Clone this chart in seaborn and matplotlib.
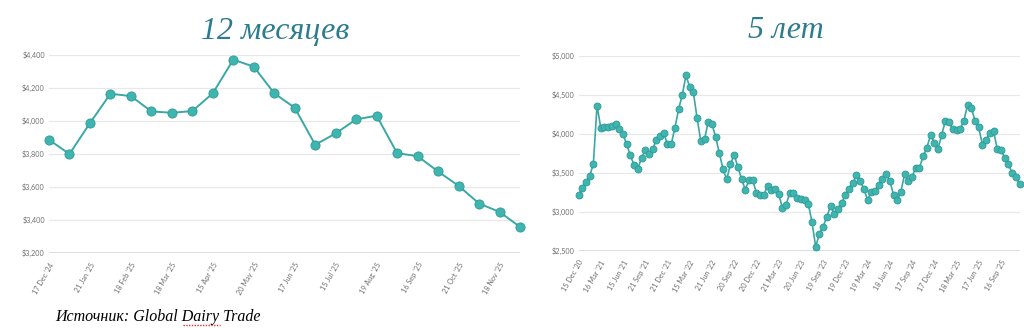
import matplotlib
matplotlib.use("Agg")
import matplotlib.pyplot as plt
from matplotlib.lines import Line2D
import seaborn as sns
import pandas as pd
import numpy as np

# ---- data ----
vals_12m = [3886, 3800, 3987, 4165, 4151, 4058, 4050, 4060, 4168, 4372, 4329, 4168,
            4080, 3856, 3925, 4010, 4032, 3805, 3787, 3694, 3607, 3500, 3449, 3358]
ticks_12m = ["17 Dec '24", "21 Jan '25", "18 Feb '25", "18 Mar '25", "15 Apr '25", "20 May '25",
             "17 Jun '25", "15 Jul '25", "19 Aug '25", "16 Sep '25", "21 Oct '25", "18 Nov '25"]

vals_5y = [3210, 3310, 3380, 3455, 3610, 4360, 4078, 4080, 4084, 4097, 4121, 4058, 3994, 3862, 3722, 3595, 3544, 3692, 3786, 3741,
           3799, 3918, 3969, 4011, 3862, 3862, 4071, 4313, 4496, 4747, 4598, 4530, 4198, 3909, 3926, 4156, 4130, 3956, 3754, 3544,
           3416, 3608, 3731, 3573, 3420, 3284, 3403, 3403, 3246, 3212, 3212, 3331, 3272, 3289, 3229, 3052, 3089, 3237, 3246, 3178,
           3169, 3148, 3102, 2869, 2551, 2716, 2805, 2936, 3068, 2975, 3034, 3110, 3216, 3297, 3364, 3470, 3390, 3297, 3148, 3254,
           3271, 3347, 3415, 3483, 3394, 3220, 3144, 3258, 3483, 3390, 3449, 3564, 3564, 3708, 3818, 3983] + vals_12m
ticks_5y = ["15 Dec '20", "16 Mar '21", "15 Jun '21", "21 Sep '21", "21 Dec '21", "15 Mar '22", "21 Jun '22",
            "20 Sep '22", "20 Dec '22", "21 Mar '23", "20 Jun '23", "19 Sep '23", "19 Dec '23", "19 Mar '24",
            "18 Jun '24", "17 Sep '24", "17 Dec '24", "18 Mar '25", "17 Jun '25", "16 Sep '25"]

yticks_12m = [3200, 3400, 3600, 3800, 4000, 4200, 4400]
yticks_5y = [2500, 3000, 3500, 4000, 4500, 5000]

titles = ["12 месяцев", "5 лет"]
source = "Источник: Global Dairy Trade"

# ---- style ----
sns.set_theme(style="white")
plt.rcParams['font.family'] = ['Lato', 'DejaVu Sans']

LINE = "#3aa8a4"
FACE = "#3fb5b0"
EDGE = "#2f9994"
TITLE_C = "#2d7b8e"
TICK_C = "#6f6f6f"
GRID_C = "#e8e8e8"

fig = plt.figure(figsize=(10.24, 3.28), dpi=100)
W, H = 1024, 328

def add_axes(l, r, t, b):
    return fig.add_axes([l / W, 1 - b / H, (r - l) / W, (b - t) / H])

ax1 = add_axes(49, 520, 55, 253)
ax2 = add_axes(578.5, 1019.5, 55.7, 250.7)

def draw(ax, vals, ticks, step, yt, ylim, ms, lw):
    df = pd.DataFrame({"i": np.arange(len(vals)), "v": vals})
    sns.lineplot(data=df, x="i", y="v", ax=ax, color=LINE, linewidth=lw,
                 marker="o", markersize=ms, markerfacecolor=FACE,
                 markeredgecolor=EDGE, markeredgewidth=0.6, clip_on=False, zorder=5)
    ax.set_xlim(0, len(vals) - 1)
    ax.set_ylim(*ylim)
    ax.set_yticks(yt)
    ax.set_yticklabels([f"${v:,}" for v in yt], fontsize=5.2, color=TICK_C)
    pos = np.arange(0, len(ticks) * step, step)
    ax.set_xticks(pos)
    ax.set_xticklabels(ticks, rotation=60, ha="right", va="top",
                       rotation_mode="anchor", fontsize=5.2, color=TICK_C)
    ax.tick_params(axis="both", length=0, pad=3)
    ax.tick_params(axis="x", pad=6)
    for s in ax.spines.values():
        s.set_visible(False)
    ax.grid(axis="y", color=GRID_C, linewidth=0.9)
    ax.grid(axis="x", visible=False)
    ax.axhline(ylim[0], color="#d9d9d9", linewidth=1.2, zorder=1)
    ax.set_xlabel("")
    ax.set_ylabel("")
    ax.set_facecolor("white")

draw(ax1, vals_12m, ticks_12m, 2, yticks_12m, (3200, 4400), 6.6, 1.4)
draw(ax2, vals_5y, ticks_5y, 6, yticks_5y, (2500, 5000), 5.0, 1.2)

fig.text(275 / W, 1 - 31 / H, titles[0], ha="center", va="center",
         fontsize=23, style="italic", color=TITLE_C, family="Liberation Serif")
fig.text(786 / W, 1 - 31 / H, titles[1], ha="center", va="center",
         fontsize=23, style="italic", color=TITLE_C, family="Liberation Serif")
fig.text(55 / W, 1 - 317 / H, source, ha="left", va="center",
         fontsize=11.5, style="italic", color="black", family="Liberation Serif")
fig.add_artist(Line2D([183 / W, 220 / W], [1 - 325 / H, 1 - 325 / H],
                      color="#e03030", linewidth=1.0, linestyle=(0, (1, 1))))

fig.savefig("out.png", dpi=100, facecolor="white")
